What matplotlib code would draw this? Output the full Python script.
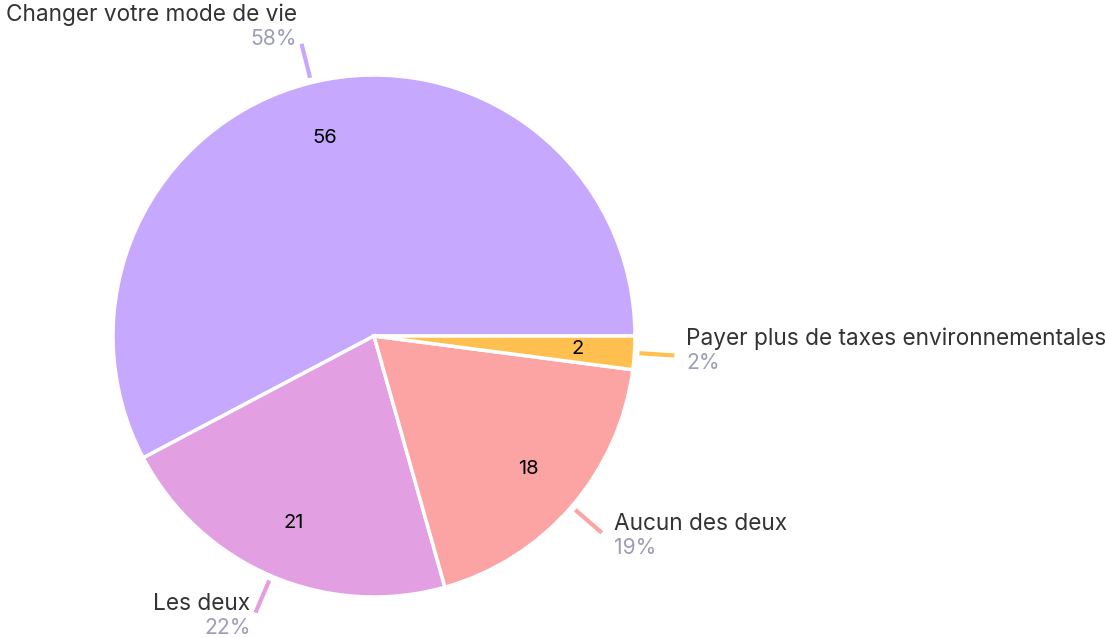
import numpy as np
import matplotlib
matplotlib.use("Agg")
import matplotlib.pyplot as plt

categories = ["Changer votre mode de vie", "Les deux", "Aucun des deux",
              "Payer plus de taxes environnementales"]
values = [56, 21, 18, 2]
percent_labels = ["58%", "22%", "19%", "2%"]
colors = ["#C6A8FE", "#E29FE2", "#FCA3A3", "#FFC04F"]

W, H = 1105, 638
fig = plt.figure(figsize=(W / 100, H / 100), dpi=100)
ax = fig.add_axes([0, 0, 1, 1])

cx, cy, R = 374, H - 336, 261
FONT = "Inter"

wedges, texts, autotexts = ax.pie(
    values, colors=colors, center=(cx, cy), radius=R, startangle=0,
    counterclock=True, autopct=lambda p: f"{p * sum(values) / 100:.0f}",
    pctdistance=0.78, frame=True,
    wedgeprops=dict(edgecolor="white", linewidth=2.5),
    textprops=dict(fontsize=14.5, color="black", family=FONT))
ax.set_xlim(0, W)
ax.set_ylim(0, H)
ax.set_aspect("equal")
ax.axis("off")

for w, lab, pct, col in zip(wedges, categories, percent_labels, colors):
    a = np.deg2rad((w.theta1 + w.theta2) / 2)
    c, s = np.cos(a), np.sin(a)
    x0, y0 = cx + (R + 5) * c, cy + (R + 5) * s
    x1, y1 = cx + (R + 40) * c, cy + (R + 40) * s
    ax.plot([x0, x1], [y0, y1], color=col, lw=3, solid_capstyle="butt")
    right = c > 0
    tx = x1 + (12 if right else -5)
    ha = "left" if right else "right"
    dyc = -6 - 12 * max(s, 0) + 9 * min(1, max(-s, 0) * 1.5)
    yc = y1 - dyc
    ax.text(tx, yc + 11.5, lab, ha=ha, va="center", fontsize=16.3,
            color="#333333", family=FONT)
    ax.text(tx, yc - 12.5, pct, ha=ha, va="center", fontsize=15.2,
            color="#9D9DB8", family=FONT)

fig.savefig("out.png", dpi=100)
